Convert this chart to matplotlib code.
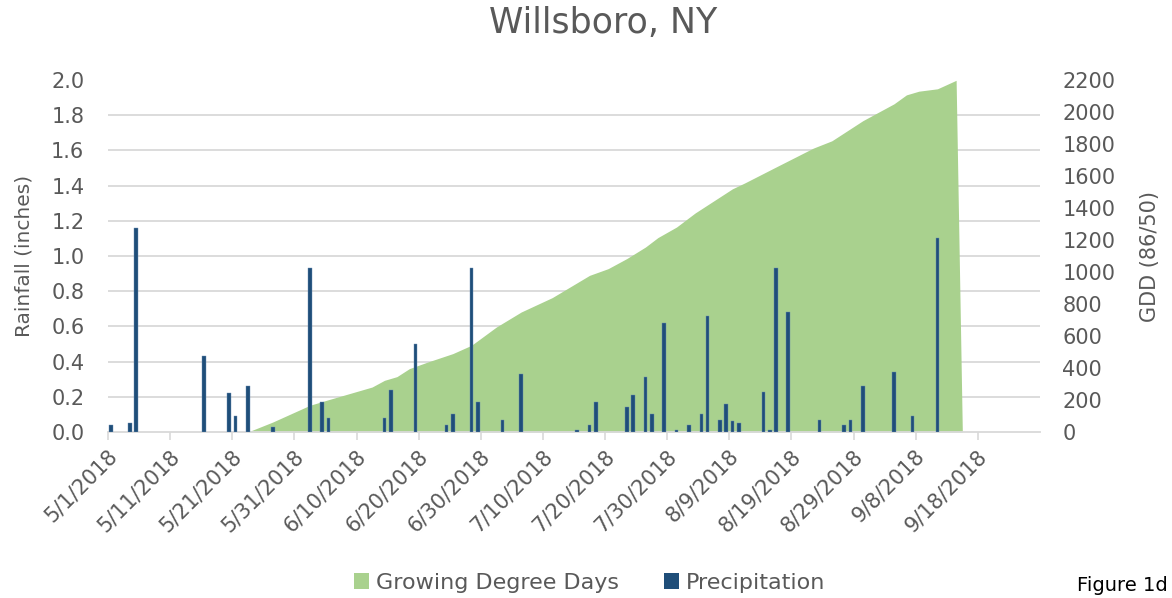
import numpy as np
import pandas as pd
import matplotlib
matplotlib.use("Agg")
from matplotlib import pyplot as plt
from matplotlib.patches import Patch
from matplotlib.transforms import ScaledTranslation

# daily rainfall (inches)
rain_dates = ["2018-05-01", "2018-05-04", "2018-05-05", "2018-05-16", "2018-05-20",
              "2018-05-21", "2018-05-23", "2018-05-27", "2018-06-02", "2018-06-04",
              "2018-06-05", "2018-06-14", "2018-06-15", "2018-06-19", "2018-06-24",
              "2018-06-25", "2018-06-28", "2018-06-29", "2018-07-03", "2018-07-06",
              "2018-07-15", "2018-07-17", "2018-07-18", "2018-07-23", "2018-07-24",
              "2018-07-26", "2018-07-27", "2018-07-29", "2018-07-31", "2018-08-02",
              "2018-08-04", "2018-08-05", "2018-08-07", "2018-08-08", "2018-08-09",
              "2018-08-10", "2018-08-14", "2018-08-15", "2018-08-16", "2018-08-18",
              "2018-08-23", "2018-08-27", "2018-08-28", "2018-08-30", "2018-09-04",
              "2018-09-07", "2018-09-11"]
rain = [0.04, 0.05, 1.16, 0.43, 0.22,
        0.09, 0.26, 0.03, 0.93, 0.17,
        0.08, 0.08, 0.24, 0.50, 0.04,
        0.10, 0.93, 0.17, 0.07, 0.33,
        0.01, 0.04, 0.17, 0.14, 0.21,
        0.31, 0.10, 0.62, 0.01, 0.04,
        0.10, 0.66, 0.07, 0.16, 0.06,
        0.05, 0.23, 0.01, 0.93, 0.68,
        0.07, 0.04, 0.07, 0.26, 0.34,
        0.09, 1.10]

# accumulated growing degree days (86/50)
gdd_dates = ["2018-05-23", "2018-05-27", "2018-06-02", "2018-06-05", "2018-06-12",
             "2018-06-14", "2018-06-16", "2018-06-18", "2018-06-21", "2018-06-25",
             "2018-06-28", "2018-07-02", "2018-07-06", "2018-07-11", "2018-07-17",
             "2018-07-20", "2018-07-23", "2018-07-26", "2018-07-28", "2018-07-31",
             "2018-08-03", "2018-08-09", "2018-08-11", "2018-08-16", "2018-08-22",
             "2018-08-25", "2018-08-30", "2018-09-01", "2018-09-04", "2018-09-06",
             "2018-09-08", "2018-09-11", "2018-09-14", "2018-09-15"]
gdd = [0, 62, 167, 202, 281,
       323, 346, 396, 438, 490,
       542, 656, 750, 840, 979,
       1021, 1084, 1156, 1215, 1281,
       1369, 1520, 1557, 1656, 1774,
       1820, 1946, 1988, 2051, 2107,
       2130, 2145, 2198, 0]

GREEN = "#A9D18E"
BLUE = "#1F4E79"
GREY = "#595959"
GRID = "#D9D9D9"

half = pd.Timedelta(hours=12)
rx = pd.to_datetime(rain_dates) + half
gx = pd.to_datetime(gdd_dates) + half

fig = plt.figure(figsize=(11.72, 5.98), dpi=100)
# ax2 = GDD (behind, carries x axis and grid), ax1 = rainfall (in front)
ax2 = fig.add_axes([108/1172, 1-432/598, (1040-108)/1172, (432-80)/598])
ax1 = ax2.twinx()
ax1.yaxis.tick_left()
ax1.yaxis.set_label_position("left")
ax2.yaxis.tick_right()
ax2.yaxis.set_label_position("right")

ax2.set_zorder(1)
ax1.set_zorder(2)
ax1.patch.set_visible(False)
ax2.patch.set_visible(True)
ax2.patch.set_facecolor("white")

ax2.fill_between(gx, gdd, 0, color=GREEN, lw=0, zorder=2)
ax2.set_ylim(0, 2200)
ax2.set_yticks(np.arange(0, 2201, 200))
ax2.set_yticks(np.arange(0, 2201, 220), minor=True)
ax2.grid(which="minor", axis="y", color=GRID, lw=1.3, zorder=0)
ax2.set_axisbelow(True)
ax2.tick_params(axis="y", which="both", length=0, labelsize=15, labelcolor=GREY, pad=16)
ax2.set_ylabel("GDD (86/50)", fontsize=15, color=GREY, rotation=90)
ax2.yaxis.set_label_coords(1.107, 0.5)

ax1.bar(rx, rain, width=0.6, color=BLUE, edgecolor="#6A8DB3", lw=0.3, zorder=3)
ax1.set_ylim(0, 2.0)
ax1.set_yticks(np.arange(0, 2.01, 0.2))
ax1.yaxis.set_major_formatter(matplotlib.ticker.FormatStrFormatter("%.1f"))
ax1.tick_params(axis="y", length=0, labelsize=15, labelcolor=GREY, pad=17)
ax1.set_ylabel("Rainfall (inches)", fontsize=14.5, color=GREY)
ax1.yaxis.set_label_coords(-0.08, 0.5)

start = pd.Timestamp("2018-05-01")
ax2.set_xlim(start, pd.Timestamp("2018-09-28"))
ticks = pd.date_range(start, periods=15, freq="10D")
ax2.set_xticks(ticks)
ax2.set_xticklabels([f"{d.month}/{d.day}/{d.year}" for d in ticks],
                    rotation=45, ha="right", va="center", rotation_mode="anchor")
ax2.tick_params(axis="x", length=6, color=GRID, width=1.2, labelsize=15,
                labelcolor=GREY, pad=9)
shift = ScaledTranslation(6/100, 0, fig.dpi_scale_trans)
for lab in ax2.get_xticklabels():
    lab.set_transform(lab.get_transform() + shift)

for a in (ax1, ax2):
    for s in a.spines.values():
        s.set_visible(False)
ax2.spines["bottom"].set_visible(True)
ax2.spines["bottom"].set_color(GRID)
ax2.spines["bottom"].set_linewidth(1.3)

fig.text(0.515, 0.962, "Willsboro, NY", ha="center", va="center", fontsize=25, color=GREY)

handles = [Patch(facecolor=GREEN, label="Growing Degree Days"),
           Patch(facecolor=BLUE, label="Precipitation")]
fig.legend(handles=handles, loc="center", bbox_to_anchor=(0.503, 0.025), ncol=2,
           frameon=False, fontsize=16, labelcolor=GREY, handlelength=0.7,
           handleheight=0.7, handletextpad=0.3, columnspacing=2.0)

fig.text(0.996, 0.012, "Figure 1d", ha="right", va="baseline", fontsize=14, color="black")

fig.savefig("out.png", dpi=100)
